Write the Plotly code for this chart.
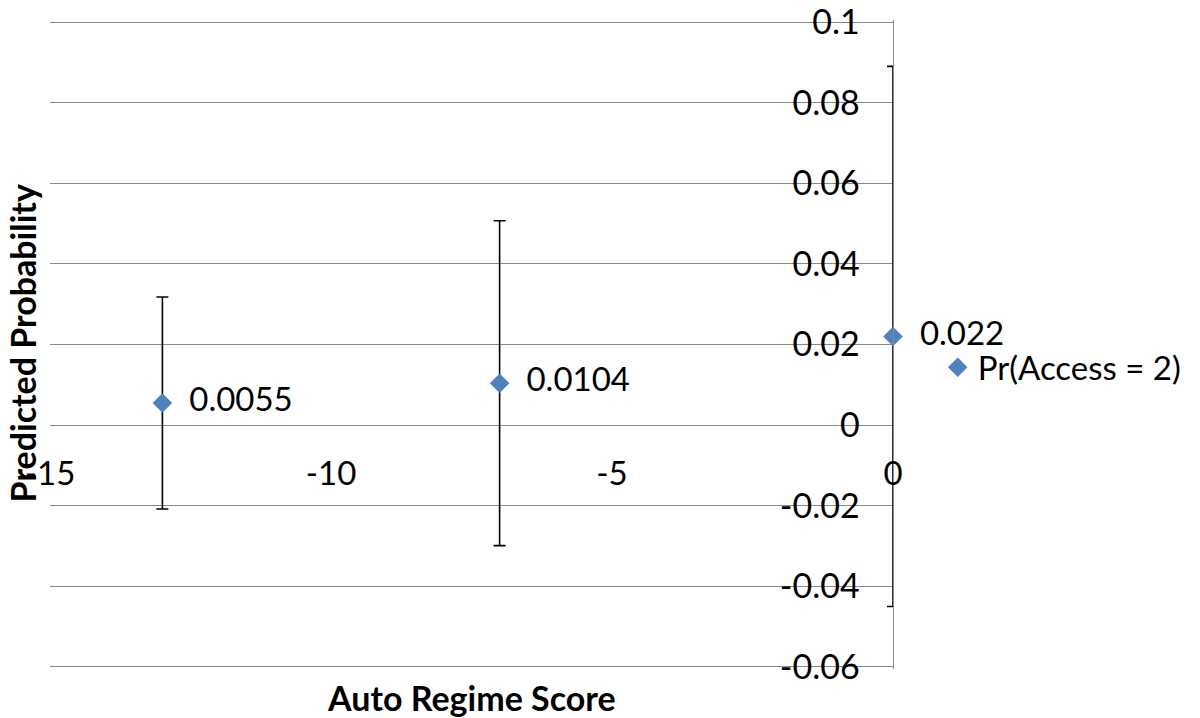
import plotly.graph_objects as go

# Predicted probabilities by auto regime score, with confidence half-widths
regime_score = [-13, -7, 0]
pred_prob = [0.0055, 0.0104, 0.022]
ci_halfwidth = [0.0263, 0.0403, 0.067]
point_labels = ["0.0055", "0.0104", "0.022"]

x_tick_vals = [-15, -10, -5, 0]
x_tick_text = ["-15", "-10", "-5", "0"]
y_tick_vals = [-0.06, -0.04, -0.02, 0, 0.02, 0.04, 0.06, 0.08, 0.1]
y_tick_text = ["-0.06", "-0.04", "-0.02", "0", "0.02", "0.04", "0.06", "0.08", "0.1"]

series_name = "Pr(Access = 2)"
x_title = "Auto Regime Score"
y_title = "Predicted Probability"

FONT = "Lato"
GRID = "#8a8a8a"
BLUE = "#4f81bd"

# small padding so the boundary gridlines (0.1 and -0.06) are still drawn
EPS = 0.0005

fig = go.Figure()
fig.add_trace(go.Scatter(
    x=regime_score,
    y=pred_prob,
    mode="markers+text",
    name=series_name,
    text=point_labels,
    texttemplate="\u2002%{text}",
    textposition="middle right",
    textfont=dict(family=FONT, size=33, color="#000000"),
    marker=dict(symbol="diamond", size=15, color=BLUE),
    error_y=dict(type="data", array=ci_halfwidth, symmetric=True,
                 color="#000000", thickness=1.6, width=6),
    cliponaxis=False,
    showlegend=True,
))

fig.update_layout(
    width=1200, height=718,
    margin=dict(l=50, r=307, t=20, b=49, autoexpand=False),
    paper_bgcolor="white", plot_bgcolor="white",
    font=dict(family=FONT, color="#000000"),
    xaxis=dict(
        range=[-15, 0],
        tickvals=x_tick_vals, ticktext=x_tick_text,
        tickfont=dict(family=FONT, size=33, color="#000000"),
        showgrid=False, zeroline=False, showline=False, ticks="",
        anchor="free", position=0.336,
        ticklabeloverflow="allow",
        automargin=False,
        fixedrange=True,
    ),
    yaxis=dict(
        range=[-0.06 - EPS, 0.1 + EPS],
        side="right",
        tickvals=y_tick_vals, ticktext=y_tick_text,
        ticklabelposition="inside",
        ticklabelstandoff=37,
        ticklabeloverflow="allow",
        automargin=False,
        tickfont=dict(family=FONT, size=34, color="#000000"),
        showgrid=True, gridcolor=GRID, gridwidth=1.2,
        zeroline=False,
        showline=True, linecolor=GRID, linewidth=1.2,
        ticks="",
        fixedrange=True,
    ),
    legend=dict(
        x=1.053, y=0.465, xanchor="left", yanchor="middle",
        font=dict(family=FONT, size=33, color="#000000"),
        bgcolor="rgba(0,0,0,0)",
    ),
    annotations=[
        dict(text=x_title, xref="paper", yref="paper", x=0.5, y=-0.044,
             showarrow=False, xanchor="center", yanchor="middle",
             font=dict(family=FONT, size=34, color="#000000", weight="bold")),
        dict(text=y_title, xref="paper", yref="paper", x=-0.033, y=0.502,
             showarrow=False, xanchor="center", yanchor="middle", textangle=-90,
             font=dict(family=FONT, size=34, color="#000000", weight="bold")),
    ],
)

fig.write_html("out.html")
